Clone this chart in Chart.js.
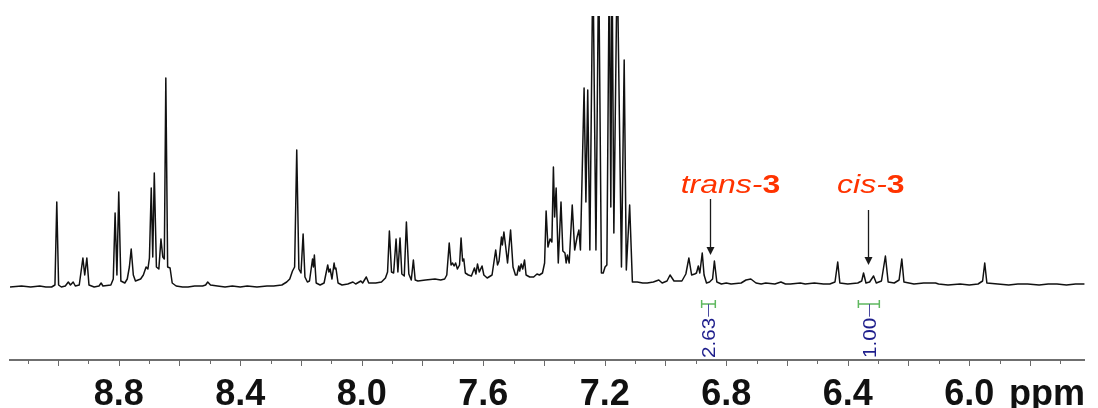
<!DOCTYPE html>
<html>
<head>
<meta charset="utf-8">
<script src="https://cdn.jsdelivr.net/npm/chart.js@4.4.1/dist/chart.umd.min.js"></script>
<style>
  html, body { margin: 0; padding: 0; background: #fff; }
</style>
</head>
<body>
<canvas id="canvas" width="1098" height="408"></canvas>
<script>
// chemical shift (ppm) and signal height
const ppm = [
  9.158, 9.120, 9.090, 9.060, 9.040, 9.021, 9.010, 9.004, 8.998, 8.989,
  8.976, 8.966, 8.959, 8.950, 8.943, 8.930, 8.918, 8.912, 8.905, 8.898,
  8.881, 8.865, 8.858, 8.852, 8.826, 8.818, 8.812, 8.806, 8.800, 8.793,
  8.780, 8.772, 8.765, 8.759, 8.752, 8.745, 8.728, 8.719, 8.710, 8.704,
  8.699, 8.693, 8.688, 8.683, 8.676, 8.668, 8.661, 8.655, 8.650, 8.645,
  8.639, 8.631, 8.624, 8.611, 8.590, 8.572, 8.550, 8.524, 8.514, 8.507,
  8.498, 8.475, 8.450, 8.426, 8.400, 8.377, 8.345, 8.312, 8.290, 8.263,
  8.247, 8.237, 8.228, 8.221, 8.214, 8.207, 8.200, 8.193, 8.187, 8.179,
  8.172, 8.162, 8.159, 8.156, 8.150, 8.137, 8.124, 8.112, 8.108, 8.104,
  8.098, 8.091, 8.088, 8.085, 8.078, 8.065, 8.046, 8.029, 8.020, 8.003,
  7.997, 7.985, 7.977, 7.954, 7.935, 7.922, 7.915, 7.909, 7.902, 7.895,
  7.887, 7.881, 7.874, 7.868, 7.860, 7.853, 7.845, 7.837, 7.830, 7.824,
  7.815, 7.790, 7.759, 7.740, 7.727, 7.720, 7.712, 7.706, 7.701, 7.696,
  7.691, 7.685, 7.678, 7.673, 7.668, 7.664, 7.659, 7.649, 7.639, 7.629,
  7.624, 7.619, 7.613, 7.604, 7.598, 7.587, 7.571, 7.559, 7.553, 7.548,
  7.540, 7.537, 7.532, 7.526, 7.520, 7.510, 7.502, 7.494, 7.489, 7.483,
  7.480, 7.475, 7.470, 7.464, 7.459, 7.447, 7.434, 7.423, 7.415, 7.405,
  7.398, 7.393, 7.387, 7.380, 7.374, 7.369, 7.365, 7.360, 7.353, 7.344,
  7.338, 7.331, 7.327, 7.323, 7.317, 7.307, 7.299, 7.291, 7.285, 7.280,
  7.268, 7.262, 7.256, 7.249, 7.239, 7.229, 7.220, 7.211, 7.205, 7.199,
  7.193, 7.185, 7.180, 7.176, 7.170, 7.159, 7.145, 7.136, 7.129, 7.118,
  7.109, 7.093, 7.075, 7.060, 7.040, 7.022, 7.011, 6.995, 6.985, 6.972,
  6.946, 6.933, 6.923, 6.914, 6.904, 6.898, 6.892, 6.887, 6.879, 6.873,
  6.865, 6.855, 6.845, 6.839, 6.831, 6.816, 6.800, 6.784, 6.751, 6.735,
  6.719, 6.702, 6.685, 6.670, 6.640, 6.620, 6.605, 6.589, 6.556, 6.540,
  6.510, 6.480, 6.459, 6.442, 6.433, 6.426, 6.400, 6.367, 6.354, 6.348,
  6.340, 6.328, 6.315, 6.306, 6.289, 6.276, 6.267, 6.247, 6.231, 6.222,
  6.215, 6.182, 6.150, 6.111, 6.101, 6.070, 6.030, 6.000, 5.971, 5.956,
  5.949, 5.942, 5.906, 5.870, 5.840, 5.808, 5.770, 5.740, 5.711, 5.680,
  5.650, 5.620
];
const intensity = [
  0, 1, 0, 1, 0, 0, 2, 85, 2, 0,
  1, 5, 2, 5, 1, 2, 29, 12, 29, 2,
  0, 1, 4, 1, 2, 8, 74, 12, 95, 6,
  4, 8, 20, 38, 12, 6, 8, 12, 20, 18,
  29, 99, 30, 114, 20, 18, 48, 30, 28, 209,
  20, 19, 4, 1, 0, 0, 1, 1, 2, 5,
  2, 1, 0, 1, 0, 1, 0, 1, 1, 2,
  5, 8, 16, 20, 137, 18, 14, 53, 10, 5,
  6, 28, 20, 32, 4, 2, 4, 22, 15, 18,
  8, 24, 18, 19, 4, 2, 3, 5, 3, 6,
  4, 10, 4, 4, 5, 9, 15, 56, 15, 14,
  48, 15, 49, 13, 11, 65, 13, 7, 27, 7,
  6, 7, 8, 7, 8, 12, 44, 22, 24, 21,
  24, 18, 22, 49, 26, 28, 14, 12, 11, 19,
  13, 23, 15, 21, 12, 9, 12, 37, 22, 26,
  50, 42, 55, 40, 24, 57, 20, 12, 12, 21,
  16, 23, 18, 27, 12, 10, 10, 13, 12, 14,
  24, 76, 40, 48, 45, 120, 70, 99, 24, 85,
  36, 34, 24, 32, 24, 82, 37, 50, 57, 37,
  199, 85, 197, 37, 330, 37, 330, 14, 14, 20,
  22, 330, 80, 330, 54, 330, 20, 227, 17, 82,
  5, 5, 4, 4, 5, 7, 4, 6, 12, 6,
  6, 13, 29, 12, 13, 14, 21, 14, 34, 12,
  4, 5, 8, 26, 5, 3, 4, 3, 4, 7,
  8, 4, 3, 4, 3, 5, 3, 3, 4, 3,
  4, 3, 3, 5, 25, 4, 3, 4, 6, 14,
  4, 5, 11, 4, 6, 31, 5, 4, 7, 28,
  5, 3, 4, 4, 3, 2, 3, 2, 3, 6,
  24, 4, 3, 2, 3, 3, 2, 3, 3, 2,
  3, 3
];

const tickLabels = ['8.8', '8.4', '8.0', '7.6', '7.2', '6.8', '6.4', '6.0'];
const unitLabel = 'ppm';
const unitAt = 5.744;

// peak assignments
const markName = ['trans-', 'cis-'];
const markNum = ['3', '3'];
const markText = [6.786, 6.324];   // text centre
const markArrow = [6.855, 6.334];  // arrow x
const arrowFrom = [88, 77];
const arrowTo = [32, 22];
const markBase = 94;

// integrals
const intFrom = [6.881, 6.365];
const intTo = [6.836, 6.296];
const intValue = ['2.63', '1.00'];

const labelFont = '"Liberation Sans Narrow", "Arial Narrow", "Liberation Sans", sans-serif';

const decor = {
  id: 'decor',
  afterDraw(chart) {
    const ctx = chart.ctx;
    const xs = chart.scales.x, ys = chart.scales.y;
    const axisY = chart.chartArea.bottom;

    // tick marks, long on even tenths
    ctx.save();
    ctx.strokeStyle = '#6a6a6a';
    ctx.lineWidth = 1;
    xs.ticks.forEach(t => {
      if (t.value === unitAt) return;
      const px = Math.round(xs.getPixelForValue(t.value)) + 0.5;
      const even = Math.round(t.value * 10) % 2 === 0;
      ctx.beginPath();
      ctx.moveTo(px, axisY);
      ctx.lineTo(px, axisY + (even ? 6 : 4));
      ctx.stroke();
    });
    ctx.restore();

    // labels with arrows
    for (let i = 0; i < markName.length; i++) {
      const cx = xs.getPixelForValue(markText[i]);
      const by = ys.getPixelForValue(markBase);
      ctx.save();
      ctx.fillStyle = '#ff3300';
      ctx.textBaseline = 'alphabetic';
      ctx.font = 'italic 25px "Liberation Sans", Arial, sans-serif';
      const w1 = ctx.measureText(markName[i]).width;
      ctx.font = 'bold 25px "Liberation Sans", Arial, sans-serif';
      const w2 = ctx.measureText(markNum[i]).width;
      const sx = 1.28;
      ctx.translate(cx - (w1 + w2) * sx / 2, by);
      ctx.scale(sx, 1);
      ctx.font = 'italic 25px "Liberation Sans", Arial, sans-serif';
      ctx.fillText(markName[i], 0, 0);
      ctx.font = 'bold 25px "Liberation Sans", Arial, sans-serif';
      ctx.fillText(markNum[i], w1, 0);
      ctx.restore();

      const ax = Math.round(xs.getPixelForValue(markArrow[i])) + 0.5;
      const y0 = ys.getPixelForValue(arrowFrom[i]);
      const y1 = ys.getPixelForValue(arrowTo[i]);
      ctx.save();
      ctx.strokeStyle = '#1a1a1a';
      ctx.fillStyle = '#1a1a1a';
      ctx.lineWidth = 1.3;
      ctx.beginPath();
      ctx.moveTo(ax, y0);
      ctx.lineTo(ax, y1 - 6);
      ctx.stroke();
      ctx.beginPath();
      ctx.moveTo(ax - 4, y1 - 8);
      ctx.lineTo(ax + 4, y1 - 8);
      ctx.lineTo(ax, y1);
      ctx.closePath();
      ctx.fill();
      ctx.restore();
    }

    // integral brackets and values
    for (let i = 0; i < intValue.length; i++) {
      const xa = xs.getPixelForValue(intFrom[i]);
      const xb = xs.getPixelForValue(intTo[i]);
      const yb = ys.getPixelForValue(-17);
      const xm = Math.round((xa + xb) / 2) + 0.5;
      ctx.save();
      ctx.strokeStyle = '#5fb85f';
      ctx.lineWidth = 1.5;
      ctx.beginPath();
      ctx.moveTo(xa, yb); ctx.lineTo(xb, yb);
      ctx.moveTo(xa, yb - 4); ctx.lineTo(xa, yb + 4);
      ctx.moveTo(xb, yb - 4); ctx.lineTo(xb, yb + 4);
      ctx.stroke();

      ctx.font = '18.5px "Liberation Sans", Arial, sans-serif';
      const sy = 1.12;
      const tw = ctx.measureText(intValue[i]).width * sy;
      const bottom = axisY - 2;
      ctx.strokeStyle = '#4a4aa0';
      ctx.lineWidth = 1;
      ctx.beginPath();
      ctx.moveTo(xm, yb);
      ctx.lineTo(xm, bottom - tw - 1);
      ctx.stroke();

      ctx.fillStyle = '#1e1e8c';
      ctx.translate(xm + 6.5, bottom);
      ctx.rotate(-Math.PI / 2);
      ctx.scale(sy, 1);
      ctx.textAlign = 'left';
      ctx.textBaseline = 'alphabetic';
      ctx.fillText(intValue[i], 0, 0);
      ctx.restore();
    }
  }
};

const ctx = document.getElementById('canvas').getContext('2d');

const spectrum = new Chart(ctx, {
  type: 'line',
  data: {
    datasets: [{
      data: ppm.map((p, i) => ({ x: p, y: intensity[i] })),
      borderColor: '#111111',
      borderWidth: 1.5,
      pointRadius: 0,
      tension: 0,
      borderJoinStyle: 'round',
      clip: 0
    }]
  },
  options: {
    responsive: false,
    animation: false,
    layout: { padding: { top: 16, left: 10, right: 0, bottom: 0 } },
    plugins: {
      legend: { display: false },
      tooltip: { enabled: false }
    },
    scales: {
      x: {
        type: 'linear',
        reverse: true,
        min: 5.620,
        max: 9.158,
        afterBuildTicks(scale) {
          scale.ticks.push({ value: unitAt });
        },
        afterFit(scale) {
          scale.height = 48;
        },
        border: { display: true, color: '#6f6f6f', width: 2 },
        grid: { display: true, drawOnChartArea: false, drawTicks: false },
        ticks: {
          stepSize: 0.1,
          includeBounds: false,
          autoSkip: false,
          maxRotation: 0,
          padding: 13,
          color: '#111111',
          font: { family: labelFont, size: 36, weight: 'bold' },
          callback(value) {
            if (value === unitAt) return unitLabel;
            const s = (Math.round(value * 10) / 10).toFixed(1);
            return tickLabels.includes(s) ? s : '';
          }
        }
      },
      y: {
        display: false,
        min: -73,
        max: 271
      }
    }
  },
  plugins: [decor]
});
</script>
</body>
</html>
